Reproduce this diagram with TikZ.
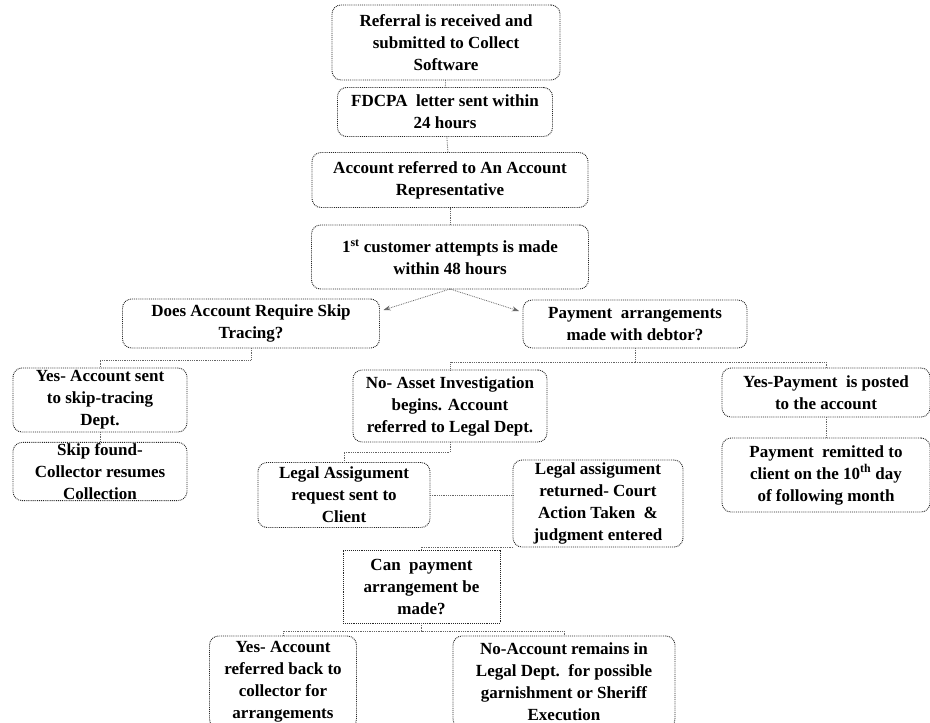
\documentclass[tikz,border=0pt]{standalone}
\usepackage{fontspec}
\setmainfont{Liberation Serif}
\usetikzlibrary{arrows.meta,positioning}

\tikzset{
    box/.style={draw=black!85, densely dotted, line width=0.9pt, rounded corners=9pt,
        align=center, inner sep=1pt, outer sep=0pt,
        font=\bfseries\fontsize{17}{22}\selectfont},
    sqbox/.style={box, rounded corners=0pt},
    link/.style={draw=black!60, densely dotted, line width=0.8pt},
    arrowlink/.style={link, -{Stealth[length=7pt,width=5pt]}}
}

\begin{document}
\begin{tikzpicture}[x=1pt, y=-1pt]

            % Obszar rysunku
            \clip (0, 0) rectangle (930, 723);
            \fill[white] (0, 0) rectangle (930, 723);

            % Kolumna startowa
            \node[box, minimum width=228, minimum height=75] (referral) at (446, 42.5)
                {Referral is received and\\submitted to Collect\\Software};
            \node[box, minimum width=215, minimum height=49] (fdcpa) at (445, 112)
                {FDCPA\ \ letter sent within\\24 hours};
            \node[box, minimum width=276, minimum height=55] (assigned) at (450, 180)
                {Account referred to An Account\\Representative};
            \node[box, minimum width=277, minimum height=64] (firstcall) at (450, 257)
                {1\textsuperscript{st} customer attempts is made\\within 48 hours};

            % Dwa pytania
            \node[box, minimum width=257, minimum height=49] (skipq) at (251, 323.5)
                {Does Account Require Skip\\Tracing?};
            \node[box, minimum width=224, minimum height=48] (payq) at (635, 324)
                {Payment\ \ arrangements\\made with debtor?};

            % Lewa galaz (skip tracing)
            \node[box, minimum width=174, minimum height=64] (skipsent) at (100, 400)
                {Yes- Account sent\\to skip-tracing\\Dept.};
            \node[box, minimum width=174, minimum height=57] (skipfound) at (100, 471.5)
                {Skip found-\\Collector resumes\\Collection};

            % Prawa galaz (platnosc)
            \node[box, minimum width=208, minimum height=49] (posted) at (826, 392.5)
                {Yes-Payment\ \ is posted\\to the account};
            \node[box, minimum width=208, minimum height=74] (remitted) at (826, 475)
                {Payment\ \ remitted to\\client on the 10\textsuperscript{th} day\\of following month};

            % Srodkowa galaz (dzial prawny)
            \node[box, minimum width=194, minimum height=72] (noasset) at (450, 406)
                {No- Asset Investigation\\begins. Account\\referred to Legal Dept.};
            \node[box, minimum width=172, minimum height=65] (legalreq) at (344, 495)
                {Legal Assigument\\request sent to\\Client};
            \node[box, minimum width=170, minimum height=87] (legalret) at (598, 503.5)
                {Legal assigument\\returned- Court\\Action Taken\ \ \&\\judgment entered};
            \node[sqbox, minimum width=157, minimum height=73] (canpay) at (421.5, 586.5)
                {Can\ \ payment\\arrangement be\\made?};

            % Wyniki na dole
            \node[box, minimum width=147, minimum height=92] (referback) at (283, 682)
                {Yes- Account\\referred back to\\collector for\\arrangements};
            \node[box, minimum width=222, minimum height=92] (remains) at (564, 682)
                {No-Account remains in\\Legal Dept.\ \ for possible\\garnishment or Sheriff\\Execution};

            % Polaczenia w kolumnie startowej
            \draw[link] (referral) -- (fdcpa);
            \draw[link] (fdcpa) -- (assigned);
            \draw[link] (assigned) -- (firstcall);

            % Strzalki do pytan
            \draw[arrowlink] (firstcall.south) -- ([xshift=4pt, yshift=-11pt]skipq.north east);
            \draw[arrowlink] (firstcall.south) -- ([xshift=-4pt, yshift=-11pt]payq.north west);

            % Rozgalezienia
            \draw[link] (skipq.south) -- ++(0, 12) -| (skipsent.north);
            \draw[link] (skipsent) -- (skipfound);
            \draw[link] (payq.south) -- ++(0, 14) coordinate (payfork);
            \draw[link] (payfork) -| (noasset.north);
            \draw[link] (payfork) -| (posted.north);
            \draw[link] (posted) -- (remitted);
            \draw[link] (noasset.south) -- ++(0, 10) -| (legalreq.north);
            \draw[link] (legalreq.east) -- (legalreq.east -| legalret.west);
            \draw[link] (legalret.south west) -| (canpay.north);
            \draw[link] (canpay.south) -- ++(0, 8) coordinate (canfork);
            \draw[link] (canfork) -| (referback.north);
            \draw[link] (canfork) -| (remains.north);

\end{tikzpicture}
\end{document}
